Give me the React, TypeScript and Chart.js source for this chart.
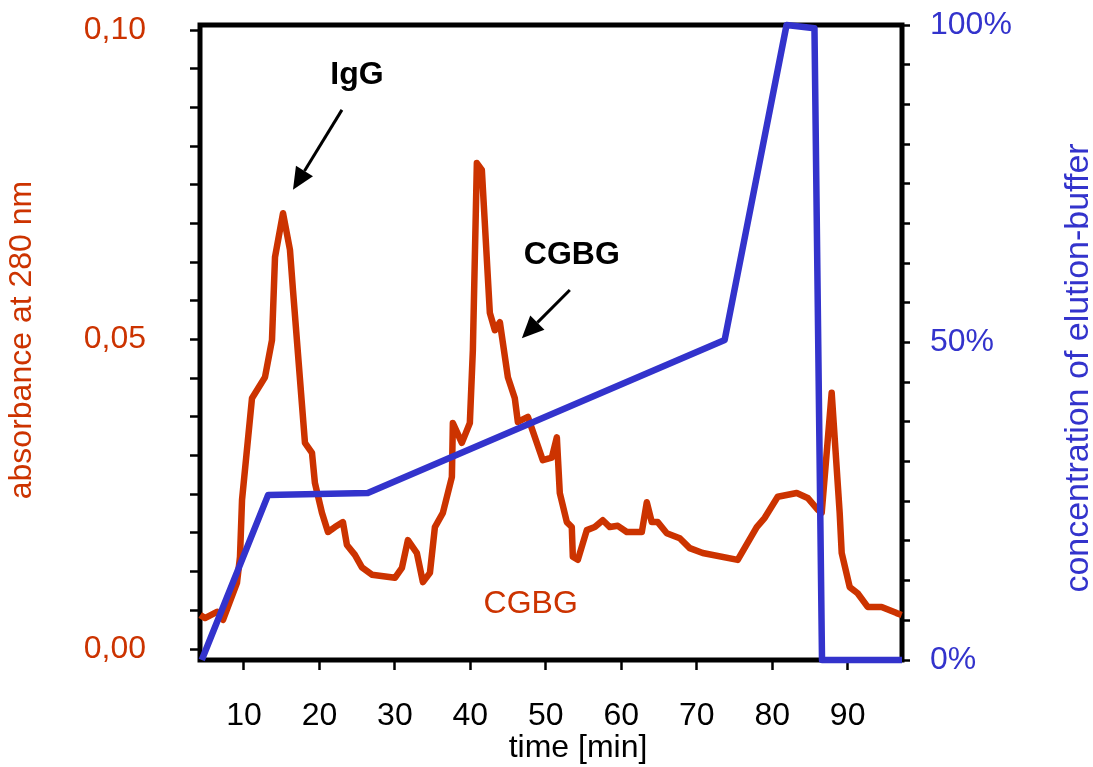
import React, { useEffect, useRef } from "react";
import { Chart, registerables } from "chart.js";

Chart.register(...registerables);

const ORANGE = "#cc3300";
const BLUE = "#3333cc";
const FONT = "'Liberation Sans', Arial, sans-serif";

// Absorbance trace (280 nm) over time
const absTime = [
  4.2, 4.83, 6.42, 7.22, 9.07, 9.47, 9.74, 11.06, 12.78, 13.71, 14.11, 15.17,
  16.09, 16.49, 18.08, 19.01, 19.4, 20.33, 21.13, 22.05, 23.11, 23.64, 24.7,
  25.63, 26.95, 30.0, 30.93, 31.72, 32.91, 33.71, 34.64, 35.3, 36.36, 37.55,
  37.68, 38.87, 39.93, 40.33, 40.86, 41.52, 42.58, 43.25, 43.91, 44.97, 45.89,
  46.29, 47.62, 49.6, 50.79, 51.46, 51.85, 52.78, 53.44, 53.58, 54.24, 55.43,
  56.49, 57.55, 58.48, 59.54, 60.73, 62.72, 63.38, 64.04, 64.83, 66.03, 67.75,
  69.07, 70.79, 75.43, 77.95, 79.01, 80.73, 83.25, 84.7, 86.03, 86.56, 87.88,
  88.94, 89.21, 90.27, 91.32, 92.65, 94.5, 96.49, 97.15,
];
const absValues = [
  0.0055, 0.005, 0.006, 0.0047, 0.0107, 0.0149, 0.0241, 0.0405, 0.0439, 0.0499,
  0.0633, 0.0704, 0.0645, 0.058, 0.0333, 0.0317, 0.0268, 0.022, 0.0189, 0.0197,
  0.0205, 0.0168, 0.0152, 0.0132, 0.012, 0.0115, 0.0131, 0.0176, 0.0155, 0.0108,
  0.0123, 0.0197, 0.022, 0.0278, 0.0365, 0.0333, 0.0365, 0.0483, 0.0785, 0.0774,
  0.0543, 0.0515, 0.0528, 0.0439, 0.0405, 0.0367, 0.0375, 0.0305, 0.0309,
  0.0342, 0.0252, 0.0205, 0.0197, 0.0149, 0.0144, 0.0192, 0.0197, 0.0208,
  0.0197, 0.0199, 0.0189, 0.0189, 0.0237, 0.0205, 0.0205, 0.0187, 0.0179,
  0.0163, 0.0155, 0.0144, 0.0197, 0.0212, 0.0246, 0.0252, 0.0244, 0.0225, 0.022,
  0.0414, 0.022, 0.0155, 0.01, 0.009, 0.0068, 0.0068, 0.0058, 0.0055,
];

// Elution-buffer gradient (percent) over time
const gradTime = [4.4, 13.2, 26.4, 73.7, 81.9, 85.6, 86.6, 97.2];
const gradPercent = [0, 26.0, 26.3, 50.4, 100, 99.5, 0, 0];

// Axis ticks
const timeTicks = [10, 20, 30, 40, 50, 60, 70, 80, 90];
const absLabelTicks = [0, 0.05, 0.1];
const percentLabelTicks = [0, 50, 100];
const absMinorStep = 0.00625;
const percentMinorStep = 6.25;

// Peak annotations (data coordinates)
const noteTexts = ["IgG", "CGBG", "CGBG"];
const noteX = [24.97, 53.44, 48.0];
const noteY = [0.0927, 0.0637, 0.0073];
const noteBold = [true, true, false];
const noteColors = ["#000000", "#000000", ORANGE];

const arrowFromX = [22.98, 53.18];
const arrowFromY = [0.0871, 0.058];
const arrowToX = [16.49, 46.82];
const arrowToY = [0.0742, 0.0502];

const near = (v: number, list: number[]) => list.some((t) => Math.abs(t - v) < 1e-6);

const zeroPadding = (s: any) => {
  s.paddingTop = 0;
  s.paddingBottom = 0;
  s.paddingLeft = 0;
  s.paddingRight = 0;
};

const decorations = {
  id: "decorations",
  beforeDatasetsDraw(chart: any) {
    const { ctx, chartArea: a } = chart;
    ctx.save();
    ctx.strokeStyle = "#000";
    ctx.lineWidth = 5;
    ctx.strokeRect(a.left, a.top, a.right - a.left, a.bottom - a.top);
    ctx.restore();
  },
  afterDatasetsDraw(chart: any) {
    const { ctx } = chart;
    const xs = chart.scales.x;
    const ys = chart.scales.y;
    ctx.save();

    // axis titles
    ctx.textAlign = "center";
    ctx.textBaseline = "middle";
    ctx.fillStyle = "#000";
    ctx.font = `32px ${FONT}`;
    ctx.fillText("time [min]", 578, 748);

    ctx.save();
    ctx.translate(22, 340);
    ctx.rotate(-Math.PI / 2);
    ctx.fillStyle = ORANGE;
    ctx.font = `32px ${FONT}`;
    ctx.fillText("absorbance at 280 nm", 0, 0);
    ctx.restore();

    ctx.save();
    ctx.translate(1079, 368);
    ctx.rotate(-Math.PI / 2);
    ctx.fillStyle = BLUE;
    ctx.font = `34px ${FONT}`;
    ctx.fillText("concentration of elution-buffer", 0, 0);
    ctx.restore();

    // annotation labels
    noteTexts.forEach((t, i) => {
      ctx.fillStyle = noteColors[i];
      ctx.font = `${noteBold[i] ? "bold " : ""}32px ${FONT}`;
      ctx.fillText(t, xs.getPixelForValue(noteX[i]), ys.getPixelForValue(noteY[i]));
    });

    // arrows
    ctx.strokeStyle = "#000";
    ctx.fillStyle = "#000";
    ctx.lineWidth = 3;
    arrowFromX.forEach((_, i) => {
      const x0 = xs.getPixelForValue(arrowFromX[i]);
      const y0 = ys.getPixelForValue(arrowFromY[i]);
      const x1 = xs.getPixelForValue(arrowToX[i]);
      const y1 = ys.getPixelForValue(arrowToY[i]);
      const ang = Math.atan2(y1 - y0, x1 - x0);
      const head = 22;
      const half = 10;
      const bx = x1 - head * Math.cos(ang);
      const by = y1 - head * Math.sin(ang);
      ctx.beginPath();
      ctx.moveTo(x0, y0);
      ctx.lineTo(bx, by);
      ctx.stroke();
      ctx.beginPath();
      ctx.moveTo(x1, y1);
      ctx.lineTo(bx + half * Math.sin(ang), by - half * Math.cos(ang));
      ctx.lineTo(bx - half * Math.sin(ang), by + half * Math.cos(ang));
      ctx.closePath();
      ctx.fill();
    });
    ctx.restore();
  },
};

export default function App() {
  const canvasRef = useRef<HTMLCanvasElement | null>(null);

  useEffect(() => {
    document.body.style.margin = "0";
    const canvas = canvasRef.current;
    if (!canvas) return;

    const absMinor = Array.from({ length: 17 }, (_, k) => k * absMinorStep);
    const pctMinor = Array.from({ length: 17 }, (_, k) => k * percentMinorStep);

    const chart = new Chart(canvas, {
      type: "line",
      data: {
        datasets: [
          {
            label: "elution buffer",
            data: gradTime.map((t, i) => ({ x: t, y: gradPercent[i] })),
            borderColor: BLUE,
            borderWidth: 6.5,
            pointRadius: 0,
            tension: 0,
            yAxisID: "y1",
            clip: false as any,
            borderJoinStyle: "round",
            order: 0,
          },
          {
            label: "A280",
            data: absTime.map((t, i) => ({ x: t, y: absValues[i] })),
            borderColor: ORANGE,
            borderWidth: 6.5,
            pointRadius: 0,
            tension: 0,
            yAxisID: "y",
            clip: false as any,
            borderJoinStyle: "round",
            order: 1,
          },
        ],
      },
      options: {
        animation: false,
        responsive: false,
        devicePixelRatio: 1,
        layout: { padding: { top: 25, left: 0, right: 0, bottom: 0 } },
        plugins: { legend: { display: false }, tooltip: { enabled: false } },
        scales: {
          x: {
            type: "linear",
            min: 4.17,
            max: 97.2,
            afterBuildTicks: (s: any) => {
              s.ticks = timeTicks.map((v) => ({ value: v }));
            },
            afterFit: (s: any) => {
              s.height = 107;
              zeroPadding(s);
            },
            grid: {
              drawOnChartArea: false,
              drawTicks: true,
              tickLength: 10,
              tickWidth: 2.5,
              tickColor: "#000",
            },
            border: { display: false },
            ticks: {
              autoSkip: false,
              maxRotation: 0,
              padding: 27,
              color: "#000",
              font: { family: FONT, size: 32 },
              callback: (v: any) => String(v),
            },
          },
          y: {
            type: "linear",
            position: "left",
            min: -0.001777,
            max: 0.100808,
            afterBuildTicks: (s: any) => {
              s.ticks = absMinor.map((v) => ({ value: v }));
            },
            afterFit: (s: any) => {
              s.width = 200;
              zeroPadding(s);
            },
            grid: {
              drawOnChartArea: false,
              drawTicks: true,
              tickLength: 10,
              tickWidth: 2.5,
              tickColor: "#000",
            },
            border: { display: false },
            ticks: {
              autoSkip: false,
              padding: 44,
              color: ORANGE,
              font: { family: FONT, size: 32 },
              callback: (v: any) =>
                near(Number(v), absLabelTicks) ? Number(v).toFixed(2).replace(".", ",") : "",
            },
          },
          y1: {
            type: "linear",
            position: "right",
            min: 0,
            max: 100,
            afterBuildTicks: (s: any) => {
              s.ticks = pctMinor.map((v) => ({ value: v }));
            },
            afterFit: (s: any) => {
              s.width = 191;
              zeroPadding(s);
            },
            grid: {
              drawOnChartArea: false,
              drawTicks: true,
              tickLength: 8,
              tickWidth: 2.5,
              tickColor: "#000",
            },
            border: { display: false },
            ticks: {
              autoSkip: false,
              padding: 20,
              color: BLUE,
              font: { family: FONT, size: 32 },
              callback: (v: any) =>
                near(Number(v), percentLabelTicks) ? `${Math.round(Number(v))}%` : "",
            },
          },
        },
      },
      plugins: [decorations],
    } as any);

    return () => chart.destroy();
  }, []);

  return (
    <div style={{ width: 1093, height: 767, background: "#fff" }}>
      <canvas ref={canvasRef} width={1093} height={767} style={{ display: "block" }} />
    </div>
  );
}
